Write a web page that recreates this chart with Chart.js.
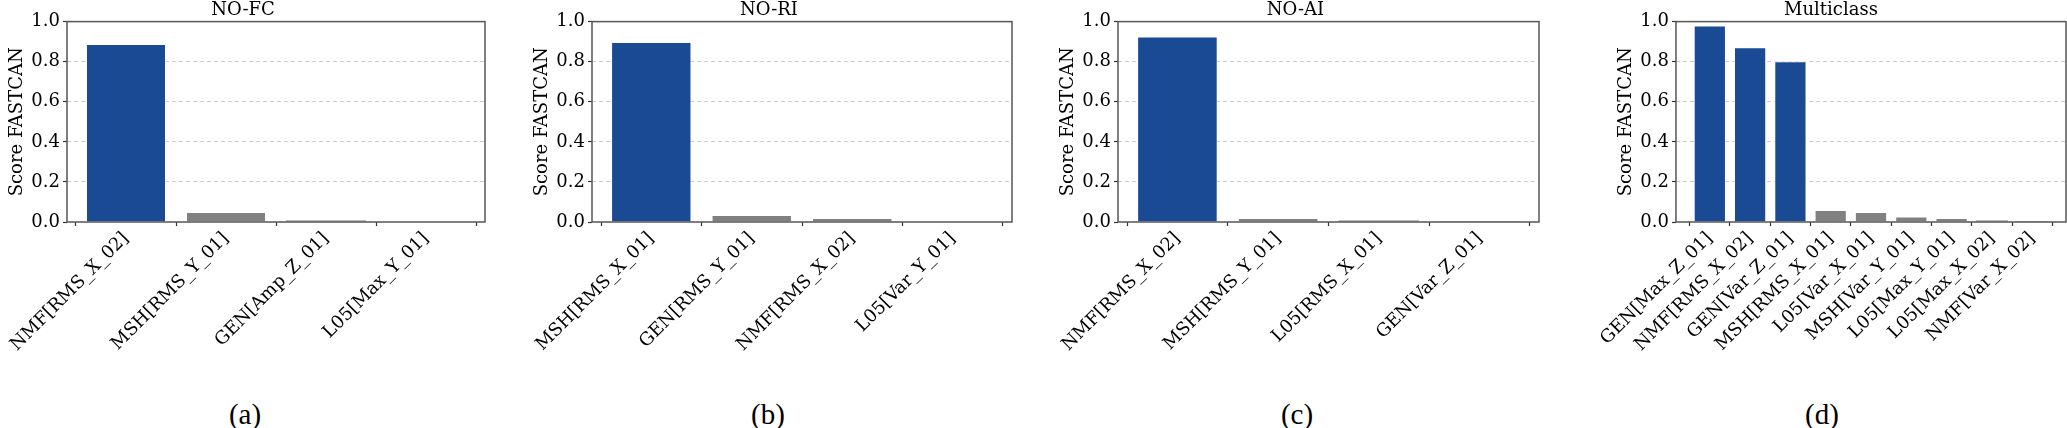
<!DOCTYPE html>
<html>
<head>
<meta charset="utf-8">
<script src="https://cdn.jsdelivr.net/npm/chart.js@4.4.1/dist/chart.umd.min.js"></script>
<style>
  body { margin: 0; background: #fff; }
  #fig { position: relative; width: 2067px; height: 428px; background: #fff; overflow: hidden; }
  .panel { position: absolute; top: 0; height: 380px; }
  .caption { position: absolute; font-family: 'Liberation Serif', serif; font-size: 29px; color: #000;
             transform: translate(-50%, -50%); top: 414px; white-space: nowrap; }
</style>
</head>
<body>
<div id="fig"></div>
<script>
// dados de cada painel
const titulosPaineis = ['NO-FC', 'NO-RI', 'NO-AI', 'Multiclass'];
const legendasPaineis = ['(a)', '(b)', '(c)', '(d)'];

const labelsNoFC = ['NMF[RMS_X_02]', 'MSH[RMS_Y_01]', 'GEN[Amp_Z_01]', 'L05[Max_Y_01]'];
const scoresNoFC = [0.888, 0.050, 0.007, 0.002];

const labelsNoRI = ['MSH[RMS_X_01]', 'GEN[RMS_Y_01]', 'NMF[RMS_X_02]', 'L05[Var_Y_01]'];
const scoresNoRI = [0.898, 0.035, 0.020, 0.003];

const labelsNoAI = ['NMF[RMS_X_02]', 'MSH[RMS_Y_01]', 'L05[RMS_X_01]', 'GEN[Var_Z_01]'];
const scoresNoAI = [0.926, 0.020, 0.008, 0.004];

const labelsMulti = ['GEN[Max_Z_01]', 'NMF[RMS_X_02]', 'GEN[Var_Z_01]', 'MSH[RMS_X_01]', 'L05[Var_X_01]',
                     'MSH[Var_Y_01]', 'L05[Max_Y_01]', 'L05[Max_X_02]', 'NMF[Var_X_02]'];
const scoresMulti = [0.980, 0.872, 0.802, 0.060, 0.050, 0.028, 0.020, 0.007, 0.005];

const yTicks = [0, 0.2, 0.4, 0.6, 0.8, 1.0];

// layout (px): posição da área do gráfico e da legenda (a)...(d)
const plotLeft = [67, 592, 1118, 1662];
const plotRight = [485, 1012, 1539, 2066];
const captionX = [245, 768, 1297, 1822];
const Y_AXIS_W = 66;

const AZUL = '#1a4a94';
const CINZA = '#808080';
const FONTE = 'DejaVu Serif';

// moldura completa (matplotlib)
const framePlugin = {
    id: 'frame',
    afterDatasetsDraw(chart) {
        const { ctx, chartArea: a } = chart;
        ctx.save();
        ctx.strokeStyle = '#555';
        ctx.lineWidth = 1.5;
        ctx.strokeRect(a.left, a.top, a.right - a.left, a.bottom - a.top);
        ctx.restore();
    }
};

function createPainel(idx, labels, scores) {
    const fig = document.getElementById('fig');
    const div = document.createElement('div');
    div.className = 'panel';
    const left = plotLeft[idx] - Y_AXIS_W;
    div.style.left = left + 'px';
    div.style.width = (plotRight[idx] + 1 - left) + 'px';
    const canvas = document.createElement('canvas');
    div.appendChild(canvas);
    fig.appendChild(div);

    const cap = document.createElement('div');
    cap.className = 'caption';
    cap.style.left = captionX[idx] + 'px';
    cap.textContent = legendasPaineis[idx];
    fig.appendChild(cap);

    const n = labels.length;
    const span = (n - 1) + 0.8;
    const xmin = -0.4 - 0.05 * span;
    const xmax = (n - 1) + 0.4 + 0.05 * span;

    new Chart(canvas.getContext('2d'), {
        type: 'bar',
        data: {
            datasets: [{
                data: scores.map((v, i) => ({ x: i, y: v })),
                backgroundColor: scores.map(v => v >= 0.5 ? AZUL : CINZA),
                borderColor: 'rgba(255,255,255,0.85)',
                borderWidth: scores.map(v => v < 0.015 ? 0 : 1),
                borderSkipped: 'bottom',
                barPercentage: 0.8,
                categoryPercentage: 1.0
            }]
        },
        plugins: [framePlugin],
        options: {
            responsive: true,
            maintainAspectRatio: false,
            animation: false,
            layout: { padding: { left: 0, right: 1, top: 0, bottom: 0 } },
            plugins: {
                legend: { display: false },
                tooltip: { enabled: false },
                title: {
                    display: true, text: titulosPaineis[idx], color: '#000',
                    font: { family: FONTE, size: 18, weight: 'normal' },
                    padding: { top: 0, bottom: 0 }
                }
            },
            scales: {
                x: {
                    type: 'linear', min: xmin, max: xmax, offset: false,
                    afterBuildTicks: (s) => { s.ticks = labels.map((_, i) => ({ value: i })); },
                    afterFit: (s) => { s.height = 380 - 222; },
                    ticks: {
                        autoSkip: false, maxRotation: 45, minRotation: 45, padding: 2, color: '#000',
                        font: { family: FONTE, size: 18 },
                        callback: (v) => labels[v] ?? ''
                    },
                    grid: { drawOnChartArea: false, drawTicks: true, tickLength: 4, tickColor: '#333', tickWidth: 1.2 },
                    border: { display: false }
                },
                y: {
                    min: 0, max: 1,
                    afterBuildTicks: (s) => { s.ticks = yTicks.map(v => ({ value: v })); },
                    afterFit: (s) => { s.width = Y_AXIS_W; },
                    ticks: {
                        color: '#000', padding: 3,
                        font: { family: FONTE, size: 18 },
                        callback: (v) => v.toFixed(1)
                    },
                    grid: {
                        color: (c) => (c.tick && (c.tick.value === 0 || c.tick.value === 1)) ? 'rgba(0,0,0,0)' : '#cccccc',
                        lineWidth: 1, tickLength: 4, tickColor: '#333', tickWidth: 1.2
                    },
                    border: { display: false, dash: [4, 3] },
                    title: {
                        display: true, text: 'Score FASTCAN', color: '#000',
                        font: { family: FONTE, size: 18 },
                        padding: { top: 6, bottom: 0 }
                    }
                }
            }
        }
    });
}

createPainel(0, labelsNoFC, scoresNoFC);
createPainel(1, labelsNoRI, scoresNoRI);
createPainel(2, labelsNoAI, scoresNoAI);
createPainel(3, labelsMulti, scoresMulti);
</script>
</body>
</html>
